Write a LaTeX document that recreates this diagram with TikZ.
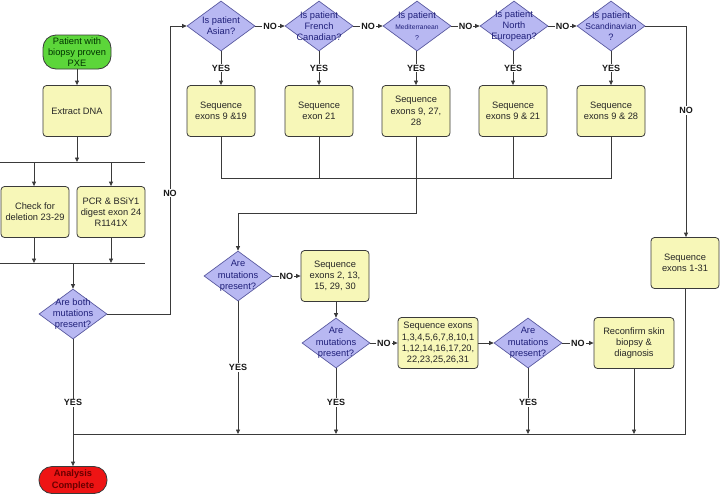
\documentclass[tikz,border=0pt]{standalone}
\usepackage{fontspec}
\setmainfont{Liberation Sans}
\usetikzlibrary{shapes.geometric,arrows.meta}
\definecolor{boxfill}{HTML}{F7F7B8}
\definecolor{diafill}{HTML}{B8B8F2}
\definecolor{diadraw}{HTML}{5A5AA0}
\definecolor{diatext}{HTML}{20207A}
\definecolor{linec}{HTML}{3A3A3A}
\definecolor{startfill}{HTML}{5CD63A}
\definecolor{endfill}{HTML}{EE1414}
\definecolor{endtext}{HTML}{6A0000}
\tikzset{
  base/.style={font=\fontsize{9.3}{11.3}\selectfont, align=center},
  pbox/.style={base, rectangle, rounded corners=3.5pt, draw=linec, line width=0.8pt,
    fill=boxfill, minimum width=68pt, minimum height=51pt, inner sep=1pt, text=black!85},
  widebox/.style={pbox, minimum width=80pt},
  dia/.style={diamond, draw=diadraw, line width=0.7pt, fill=diafill, minimum width=68pt,
    minimum height=50pt, inner sep=0pt},
  qtext/.style={base, text=diatext, inner sep=0pt},
  term/.style={base, rectangle, rounded corners=13pt, draw=linec, line width=0.8pt,
    minimum width=68pt, inner sep=0pt},
  lab/.style={font=\fontsize{9}{10}\selectfont\bfseries, fill=white, inner sep=1pt, text=black!90},
  ln/.style={draw=linec, line width=0.8pt},
  arr/.style={ln, -{Triangle[length=4.5pt,width=4pt]}},
}
\begin{document}
\begin{tikzpicture}[x=1pt,y=-1pt]
\useasboundingbox (0,0) rectangle (720,493);

% left column
\node[term, fill=startfill, minimum height=34pt, text=black!80!green] (start) at (77,52) {Patient with\\biopsy proven\\PXE};
\node[pbox] (extract) at (77,111) {Extract DNA};
\draw[arr] (start) -- (extract);
\coordinate (s1) at (77,162);
\coordinate (h1l) at (0,162);
\coordinate (h1r) at (145,162);
\coordinate (h1a) at (34,162);
\coordinate (h1b) at (111,162);
\draw[arr] (extract) -- (s1);
\draw[ln] (h1l) -- (h1r);
\node[pbox] (chk) at (35,212) {Check for\\deletion 23-29};
\node[pbox] (pcr) at (111,212) {PCR \& BSiY1\\digest exon 24\\R1141X};
\draw[arr] (h1a) -- (chk.north -| h1a);
\draw[arr] (h1b) -- (pcr.north -| h1b);
\coordinate (h2l) at (0,263);
\coordinate (h2r) at (145,263);
\coordinate (h2a) at (34,263);
\coordinate (h2b) at (111,263);
\coordinate (h2c) at (73,263);
\draw[ln] (h2l) -- (h2r);
\draw[arr] (chk.south -| h2a) -- (h2a);
\draw[arr] (pcr.south -| h2b) -- (h2b);
\node[dia, label={[qtext]center:Are both\\mutations\\present?}] (q0) at (73,314) {};
\draw[arr] (h2c) -- (q0);

\node[term, fill=endfill, minimum height=27pt, text=endtext, font=\fontsize{9.3}{11.3}\selectfont\bfseries] (endn) at (73,480) {Analysis\\Complete};
\draw[arr] (q0) -- node[lab, pos=0.5] {YES} (endn);

% top row
\node[dia, label={[qtext]center:Is patient\\Asian?}] (qa) at (221,26) {};
\node[dia, label={[qtext]center:Is patient\\French\\Canadian?}] (qf) at (319,26) {};
\node[dia, label={[qtext]center:Is patient\\{\fontsize{6.7}{8}\selectfont Mediterranean}\\{\fontsize{7}{8}\selectfont ?}}] (qm) at (417,26) {};
\node[dia, label={[qtext]center:Is patient\\North\\European?}] (qn) at (514,26) {};
\node[dia, label={[qtext]center:Is patient\\{\fontsize{8.5}{10}\selectfont Scandinavian}\\?}] (qs) at (611,26) {};

\coordinate (c0a) at (170,314);
\coordinate (c0b) at (170,26);
\draw[arr] (q0.east) -- (c0a) -- node[lab, pos=0.42] {NO} (c0b) -- (qa.west);

\draw[arr] (qa.east) -- node[lab] {NO} (qf.west);
\draw[arr] (qf.east) -- node[lab] {NO} (qm.west);
\draw[arr] (qm.east) -- node[lab] {NO} (qn.west);
\draw[arr] (qn.east) -- node[lab] {NO} (qs.west);

\node[pbox] (ba) at (221,111) {Sequence\\exons 9 \&19};
\node[pbox] (bf) at (319,111) {Sequence\\exon 21};
\node[pbox] (bm) at (416,111) {Sequence\\exons 9, 27,\\28};
\node[pbox] (bn) at (513,111) {Sequence\\exons 9 \& 21};
\node[pbox] (bs) at (611,111) {Sequence\\exons 9 \& 28};

\draw[arr] (qa.south) -- node[lab] {YES} (ba.north);
\draw[arr] (qf.south) -- node[lab] {YES} (bf.north);
\draw[arr] (qm.south -| bm) -- node[lab] {YES} (bm.north);
\draw[arr] (qn.south -| bn) -- node[lab] {YES} (bn.north);
\draw[arr] (qs.south) -- node[lab] {YES} (bs.north);

\coordinate (j1) at (221,178);
\coordinate (j5) at (611,178);
\draw[ln] (ba.south) -- (j1) -- (j5) -- (bs.south);
\draw[ln] (bf.south) -- (bf.south |- j1);
\draw[ln] (bn.south) -- (bn.south |- j1);

% right: Sequence 1-31
\node[pbox] (s31) at (685,263) {Sequence\\exons 1-31};
\coordinate (cs) at (686,26);
\draw[arr] (qs.east) -- (cs) -- node[lab, pos=0.4] {NO} (s31.north -| cs);

% middle section
\node[dia, label={[qtext]center:Are\\mutations\\present?}] (q1) at (238,276) {};
\coordinate (m1) at (416,213);
\coordinate (m2) at (238,213);
\draw[arr] (bm.south) -- (m1) -- (m2) -- (q1.north);

\node[pbox] (b2) at (335,276) {Sequence\\exons 2, 13,\\15, 29, 30};
\draw[arr] (q1.east) -- node[lab] {NO} (b2.west);

\node[dia, label={[qtext]center:Are\\mutations\\present?}] (q2) at (336,343) {};
\draw[arr] (b2.south -| q2) -- (q2.north);

\node[widebox] (b3) at (438,343) {Sequence exons\\1,3,4,5,6,7,8,10,1\\1,12,14,16,17,20,\\22,23,25,26,31};
\draw[arr] (q2.east) -- node[lab] {NO} (b3.west);

\node[dia, label={[qtext]center:Are\\mutations\\present?}] (q3) at (528,343) {};
\draw[arr] (b3.east) -- (q3.west);

\node[widebox] (rc) at (634,343) {Reconfirm skin\\biopsy \&\\diagnosis};
\draw[arr] (q3.east) -- node[lab] {NO} (rc.west);

% bottom collecting line
\coordinate (bl) at (73,434);
\coordinate (br) at (685,434);
\coordinate (b1) at (238,434);
\coordinate (b2c) at (336,434);
\coordinate (b3c) at (528,434);
\coordinate (b4c) at (634,434);
\draw[ln] (bl) -- (br) -- (s31.south -| br);
\draw[arr] (q1.south) -- node[lab, pos=0.5] {YES} (b1);
\draw[arr] (q2.south) -- node[lab, pos=0.52] {YES} (b2c);
\draw[arr] (q3.south) -- node[lab, pos=0.52] {YES} (b3c);
\draw[arr] (rc.south) -- (b4c);
\end{tikzpicture}
\end{document}
